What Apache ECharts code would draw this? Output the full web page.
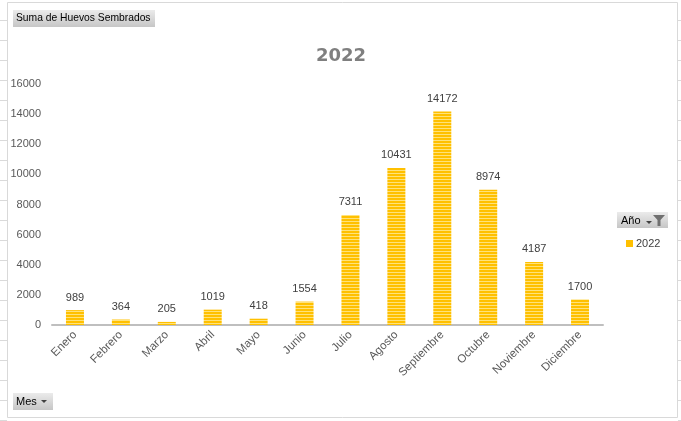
<!DOCTYPE html>
<html>
<head>
<meta charset="utf-8">
<script src="https://cdn.jsdelivr.net/npm/echarts@6/dist/echarts.min.js"></script>
<style>
html,body{margin:0;padding:0;background:#fff;}
#chart{width:681px;height:421px;}
</style>
</head>
<body>
<div id="chart"></div>
<script>
const categories = ['Enero','Febrero','Marzo','Abril','Mayo','Junio','Julio','Agosto','Septiembre','Octubre','Noviembre','Diciembre'];
const values2022 = [989, 364, 205, 1019, 418, 1554, 7311, 10431, 14172, 8974, 4187, 1700];
const seriesName = '2022';
const chartTitle = '2022';
const valueFieldLabel = 'Suma de Huevos Sembrados';
const legendFieldLabel = 'Año';
const axisFieldLabel = 'Mes';

const FONT = '"Liberation Sans", Arial, sans-serif';

// striped pattern for bars
const pc = document.createElement('canvas');
pc.width = 4; pc.height = 3;
const pctx = pc.getContext('2d');
pctx.fillStyle = '#FFC000'; pctx.fillRect(0,0,4,2);
pctx.fillStyle = '#FFE27A'; pctx.fillRect(0,2,4,1);

const btnFill = {
  type: 'linear', x: 0, y: 0, x2: 0, y2: 1,
  colorStops: [{offset: 0, color: '#EBEBEB'}, {offset: 1, color: '#C6C6C6'}]
};

const graphics = [];
// excel cell gridlines outside chart frame
for (let y = 20; y < 421; y += 20) {
  graphics.push({type:'line', silent:true, shape:{x1:0,y1:y+0.5,x2:7,y2:y+0.5}, style:{stroke:'#DADADA',lineWidth:1}});
  graphics.push({type:'line', silent:true, shape:{x1:678,y1:y+0.5,x2:681,y2:y+0.5}, style:{stroke:'#DADADA',lineWidth:1}});
}
// chart frame
graphics.push({type:'rect', silent:true, shape:{x:7.5,y:2.5,width:670,height:415}, style:{fill:'none',stroke:'#D9D9D9',lineWidth:1}});
// value field button
graphics.push({type:'rect', shape:{x:13,y:10,width:142,height:17}, style:{fill:btnFill, lineWidth:0}});
graphics.push({type:'text', style:{x:16, y:18.5, text:valueFieldLabel, font:'10.3px '+FONT, fill:'#000', textVerticalAlign:'middle', textAlign:'left'}});
// legend field button
graphics.push({type:'rect', shape:{x:617,y:212,width:51,height:16}, style:{fill:btnFill, lineWidth:0}});
graphics.push({type:'text', style:{x:621, y:220.5, text:legendFieldLabel, font:'11px '+FONT, fill:'#000', textVerticalAlign:'middle', textAlign:'left'}});
graphics.push({type:'polygon', shape:{points:[[646,221],[652,221],[649,224]]}, style:{fill:'#404040'}});
graphics.push({type:'polygon', shape:{points:[[653,215],[665,215],[660.5,220],[660.5,226],[657.5,226],[657.5,220]]}, style:{fill:'#707070'}});
// axis field button
graphics.push({type:'rect', shape:{x:13,y:393,width:40,height:17}, style:{fill:btnFill, lineWidth:0}});
graphics.push({type:'text', style:{x:16, y:401.5, text:axisFieldLabel, font:'11px '+FONT, fill:'#000', textVerticalAlign:'middle', textAlign:'left'}});
graphics.push({type:'polygon', shape:{points:[[41,400],[47,400],[44,403]]}, style:{fill:'#404040'}});

const chart = echarts.init(document.getElementById('chart'), null, {renderer:'canvas'});
chart.setOption({
  animation: false,
  backgroundColor: '#fff',
  title: {
    text: chartTitle,
    left: 311, top: 42,
    textStyle: {fontFamily: '"DejaVu Sans", sans-serif', fontWeight: 'bold', fontSize: 18, color: '#7F7F7F'}
  },
  legend: {
    left: 621, top: 233,
    orient: 'vertical',
    itemWidth: 7, itemHeight: 7, itemGap: 4,
    icon: 'rect',
    textStyle: {fontFamily: FONT, fontSize: 11, color: '#404040', padding: [0,0,0,-2]},
    data: [{name: seriesName, itemStyle: {color: '#FFC000'}}]
  },
  grid: {left: 52, right: 78, top: 84, bottom: 96, containLabel: false},
  xAxis: {
    type: 'category',
    data: categories,
    axisLine: {lineStyle: {color: '#BFBFBF', width: 2}},
    axisTick: {show: false},
    axisLabel: {rotate: 45, margin: 8, interval: 0, fontFamily: FONT, fontSize: 11.5, color: '#595959'}
  },
  yAxis: {
    type: 'value',
    min: 0, max: 16000, interval: 2000,
    axisLine: {show: false},
    axisTick: {show: false},
    splitLine: {show: false},
    axisLabel: {margin: 11, fontFamily: FONT, fontSize: 11, color: '#595959', formatter: v => String(v)}
  },
  series: [{
    name: seriesName,
    type: 'bar',
    data: values2022,
    barWidth: 18,
    itemStyle: {color: {image: pc, repeat: 'repeat'}},
    label: {show: true, position: 'top', distance: 7, fontFamily: FONT, fontSize: 11, color: '#404040'}
  }],
  graphic: graphics
});
</script>
</body>
</html>
